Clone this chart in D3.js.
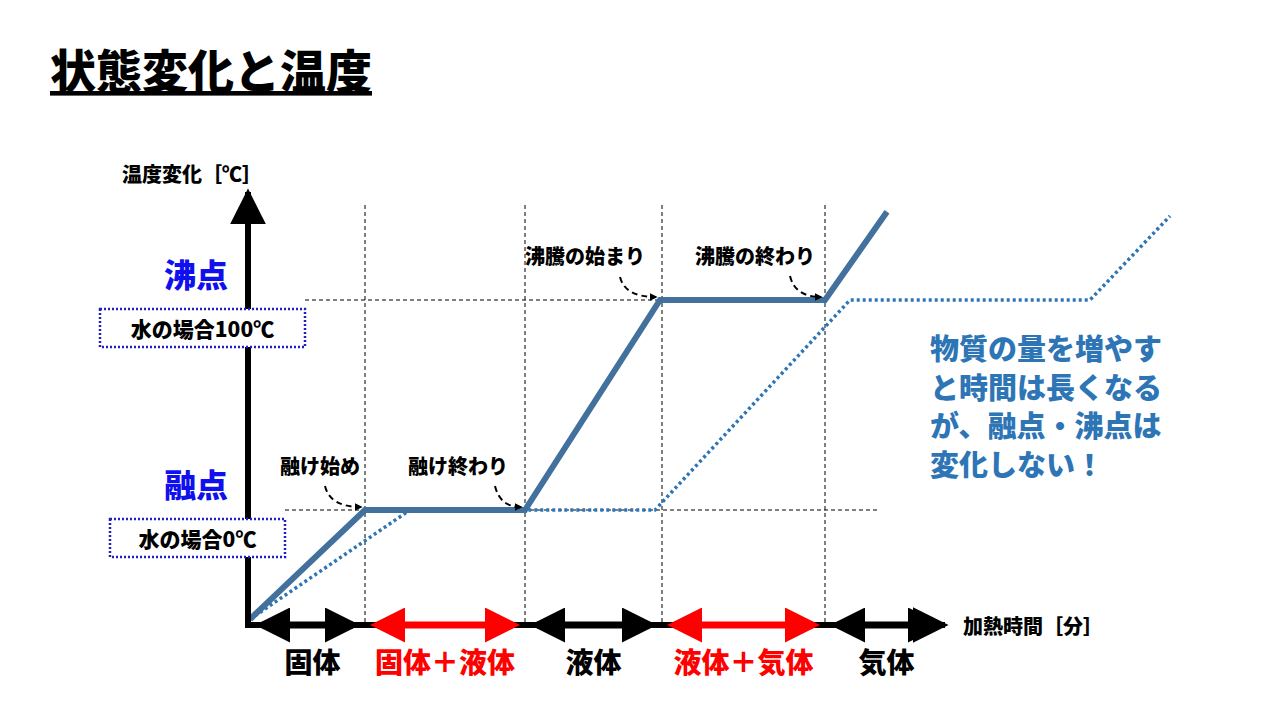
<!DOCTYPE html>
<html><head><meta charset="utf-8">
<script src="https://cdn.jsdelivr.net/npm/d3@7"></script>
<style>body{margin:0;background:#fff}text{font-family:"Noto Sans CJK JP",sans-serif;font-weight:900}</style>
</head><body><svg id="c" width="1280" height="720"></svg>
<script>
// time [min] and temperature [℃] of the two heating curves
const solidTime = [0, 11.5, 27.5, 41, 57.5, 63.7];
const solidTemp = [-52, 0, 0, 100, 100, 142];
const dotTime = [0, 16, 40.5, 60, 84, 92];
const dotTemp = [-52, 0, 0, 100, 100, 140];
const phaseBounds = [0, 11.5, 27.5, 41.2, 57.5, 69.8];
const phaseLabels = ['固体', '固体＋液体', '液体', '液体＋気体', '気体'];
const phaseRed = [false, true, false, true, false];
const noteLines = ['物質の量を増やす', 'と時間は長くなる', 'が、融点・沸点は', '変化しない！'];

const svg = d3.select('#c');
const x = d3.scaleLinear().domain([0, 10]).range([250, 350]);
const y = d3.scaleLinear().domain([0, 100]).range([510, 300]);
const blue = '#41719c';

svg.append('defs').html(`
<marker id="ah" viewBox="0 0 10 10" refX="9" refY="5" markerWidth="6" markerHeight="6" orient="auto-start-reverse"><path d="M0,0L10,5L0,10z" fill="#000"/></marker>
<marker id="bh" viewBox="0 0 10 10" refX="8" refY="5" markerWidth="5" markerHeight="5" orient="auto-start-reverse"><path d="M0,0L10,5L0,10z" fill="#000"/></marker>
<marker id="rh" viewBox="0 0 10 10" refX="8" refY="5" markerWidth="5" markerHeight="5" orient="auto-start-reverse"><path d="M0,0L10,5L0,10z" fill="#f00"/></marker>
<marker id="sh" viewBox="0 0 10 10" refX="8" refY="5" markerWidth="4" markerHeight="4" orient="auto-start-reverse"><path d="M0,0L10,5L0,10z" fill="#000"/></marker>`);

// title
svg.append('text').attr('x', 50).attr('y', 88).attr('font-size', 46).attr('text-decoration', 'underline').text('状態変化と温度');

// guide lines
phaseBounds.slice(1, 5).forEach(t => svg.append('line').attr('x1', x(t)).attr('x2', x(t)).attr('y1', 205).attr('y2', 622)
  .attr('stroke', '#000').attr('stroke-dasharray', '4,3').attr('stroke-width', 1));
svg.append('line').attr('x1', 305).attr('x2', x(57.5)).attr('y1', y(100)).attr('y2', y(100)).attr('stroke', '#000').attr('stroke-dasharray', '4,3');
svg.append('line').attr('x1', 285).attr('x2', 880).attr('y1', y(0)).attr('y2', y(0)).attr('stroke', '#000').attr('stroke-dasharray', '4,3');

// curves
const line = d3.line().x(d => x(d[0])).y(d => y(d[1]));
svg.append('path').attr('d', line(d3.zip(dotTime, dotTemp))).attr('fill', 'none').attr('stroke', '#2e75b6').attr('stroke-width', 3.5).attr('stroke-dasharray', '3,3');
svg.append('path').attr('d', line(d3.zip(solidTime, solidTemp))).attr('fill', 'none').attr('stroke', blue).attr('stroke-width', 6);

// axes
svg.append('line').attr('x1', 248).attr('x2', 248).attr('y1', 628).attr('y2', 192).attr('stroke', '#000').attr('stroke-width', 6).attr('marker-end', 'url(#ah)');
svg.append('line').attr('x1', 245).attr('x2', 945).attr('y1', 625).attr('y2', 625).attr('stroke', '#000').attr('stroke-width', 6).attr('marker-end', 'url(#ah)');

// phase arrows and labels
phaseLabels.forEach((lab, i) => {
  const x0 = x(phaseBounds[i]), x1 = x(phaseBounds[i + 1]);
  const c = phaseRed[i] ? '#f00' : '#000';
  svg.append('line').attr('x1', x0 + 12).attr('x2', x1 - 12).attr('y1', 625).attr('y2', 625).attr('stroke', c).attr('stroke-width', 7)
    .attr('marker-start', `url(#${phaseRed[i] ? 'rh' : 'bh'})`).attr('marker-end', `url(#${phaseRed[i] ? 'rh' : 'bh'})`);
  svg.append('text').attr('x', (x0 + x1) / 2 + (i === 0 ? 5 : 0)).attr('y', 673).attr('text-anchor', 'middle').attr('font-size', 28).attr('fill', c).text(lab);
});

// axis labels
svg.append('text').attr('x', 122).attr('y', 182).attr('font-size', 20).text('温度変化［℃］');
svg.append('text').attr('x', 963).attr('y', 634).attr('font-size', 20).text('加熱時間［分］');

// boiling / melting point labels
[[100, '沸点', '水の場合100℃', 100, 305], [0, '融点', '水の場合0℃', 110, 285]].forEach(([t, name, box, bx0, bx1]) => {
  svg.append('text').attr('x', 196).attr('y', y(t) - 13).attr('text-anchor', 'middle').attr('font-size', 32).attr('fill', '#1010ee').text(name);
  svg.append('rect').attr('x', bx0).attr('y', y(t) + 9).attr('width', bx1 - bx0).attr('height', 38).attr('fill', '#fff').attr('stroke', '#2020c0').attr('stroke-width', 2.5).attr('stroke-dasharray', '2,2');
  svg.append('text').attr('x', (bx0 + bx1) / 2).attr('y', y(t) + 37).attr('text-anchor', 'middle').attr('font-size', 21).attr('font-weight', 500).text(box);
});

// annotations
const notes = [['融け始め', 280, 474, 325, 486, solidTime[1]], ['融け終わり', 408, 474, 495, 486, solidTime[2]],
  ['沸騰の始まり', 525, 264, 620, 277, solidTime[3]], ['沸騰の終わり', 695, 264, 790, 276, solidTime[4]]];
notes.forEach(([txt, tx, ty, ax, ay, t]) => {
  svg.append('text').attr('x', tx).attr('y', ty).attr('font-size', 20).text(txt);
  const ex = x(t) - 4, ey = (t < 30 ? y(0) : y(100)) - 3;
  svg.append('path').attr('d', `M${ax},${ay} Q${ax + 5},${ey} ${ex},${ey}`).attr('fill', 'none').attr('stroke', '#000').attr('stroke-width', 2)
    .attr('stroke-dasharray', '6,4').attr('marker-end', 'url(#sh)');
});

// note on the right
noteLines.forEach((l, i) => svg.append('text').attr('x', 930).attr('y', 360 + i * 38.5).attr('font-size', 29).attr('fill', '#2e75b6').text(l));
</script></body></html>
